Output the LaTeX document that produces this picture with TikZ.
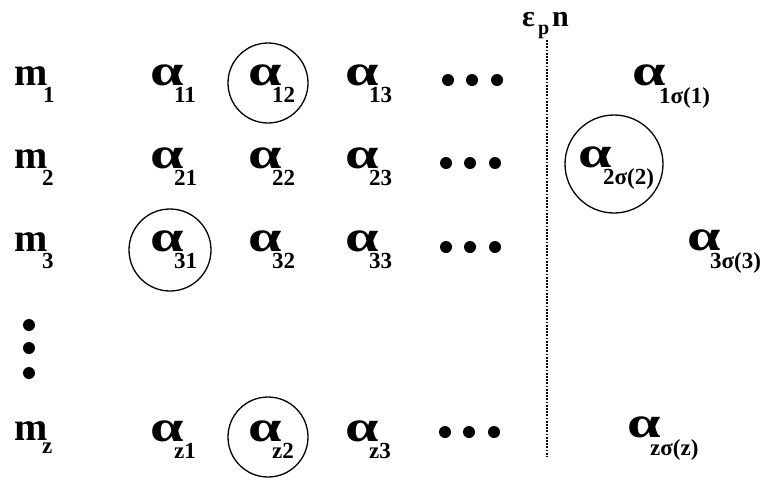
\documentclass[tikz,border=0pt]{standalone}
\usepackage{fontspec}
\setmainfont{Liberation Serif}
\begin{document}
\begin{tikzpicture}[x=1pt,y=-1pt,
  mainlab/.style={anchor=base west,inner sep=0pt,font=\fontsize{40}{44}\selectfont\bfseries},
  sublab/.style={anchor=base west,inner sep=0pt,font=\fontsize{23}{25}\selectfont\bfseries},
  ring/.style={draw,line width=1.3pt},
  blob/.style={fill=black},
  vline/.style={line width=1.6pt,dash pattern=on 1.8pt off 1.4pt}]
\useasboundingbox (0,0) rectangle (763,480);
% row labels
\node[mainlab] (m1) at (14,85) {m};  \node[sublab] (m1s) at ([xshift=29pt,yshift=-17pt]m1.base west) {1};
\node[mainlab] (m2) at (14,168) {m}; \node[sublab] (m2s) at ([xshift=28pt,yshift=-17pt]m2.base west) {2};
\node[mainlab] (m3) at (14,251) {m}; \node[sublab] (m3s) at ([xshift=28pt,yshift=-17pt]m3.base west) {3};
\node[mainlab] (mz) at (14,440) {m}; \node[sublab] (mzs) at ([xshift=28pt,yshift=-13pt]mz.base west) {z};
% alpha entries
\foreach \nm/\x/\y/\s in {a11/150/85/11, a12/248/85/12, a13/345/85/13,
                          a21/150/168/21, a22/248/168/22, a23/345/168/23,
                          a31/150/251/31, a32/248/251/32, a33/345/251/33,
                          az1/150/441/z1, az2/248/441/z2, az3/345/441/z3}{
  \node[mainlab] (\nm) at (\x,\y) {\scalebox{1.5}[1.1]{α}};
  \node[sublab] (\nm s) at ([xshift=24pt,yshift=-17pt]\nm.base west) {\s};
}
\node[mainlab] (b1) at (632,85) {\scalebox{1.5}[1.1]{α}};
\node[sublab] (b1s) at ([xshift=27pt,yshift=-18pt]b1.base west) {1σ(1)};
\node[mainlab] (b2) at (578,167) {\scalebox{1.5}[1.1]{α}};
\node[sublab] (b2s) at ([xshift=25pt,yshift=-17pt]b2.base west) {2σ(2)};
\node[mainlab] (b3) at (687,250) {\scalebox{1.5}[1.1]{α}};
\node[sublab] (b3s) at ([xshift=23pt,yshift=-18pt]b3.base west) {3σ(3)};
\node[mainlab] (bz) at (627,437) {\scalebox{1.5}[1.1]{α}};
\node[sublab] (bzs) at ([xshift=23pt,yshift=-18pt]bz.base west) {zσ(z)};
% circles
\draw[ring] (268,83) circle[radius=40];
\draw[ring] (170,250) circle[radius=41];
\draw[ring] (268,437) circle[radius=40];
\draw[ring] (614,164) circle[radius=49];
% horizontal dots
\foreach \y/\dx in {80/0,163/-2,247/-2,432/-3}{
  \foreach \x in {448,472,497}{
    \fill[blob] (\x+\dx,\y) circle[radius=6];
  }
}
% vertical dots
\foreach \y in {325,348,373}{\fill[blob] (29,\y) circle[radius=6];}
% epsilon_p n and dotted line
\node[mainlab,font=\fontsize{30}{34}\selectfont\bfseries] (eps) at (522,26) {ε};
\node[sublab,font=\fontsize{20}{22}\selectfont\bfseries] (epsp) at (538,34) {p};
\node[mainlab,font=\fontsize{30}{34}\selectfont\bfseries] (epsn) at (552,26) {n};
\coordinate (lt) at (547,40);
\coordinate (lb) at (547,457);
\draw[vline] (lt) -- (lb);
\end{tikzpicture}
\end{document}
